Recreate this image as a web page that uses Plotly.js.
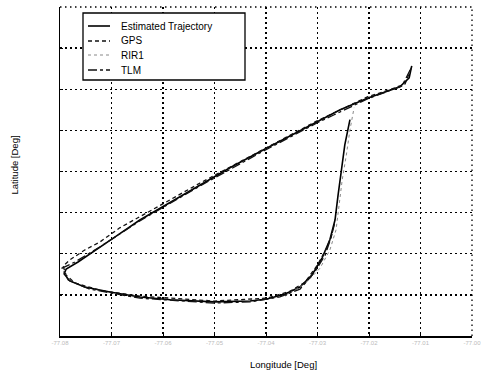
<!DOCTYPE html>
<html><head><meta charset="utf-8">
<script src="https://cdn.plot.ly/plotly-3.0.1.min.js"></script>
<style>html,body{margin:0;padding:0;background:#fff}#c{width:485px;height:376px}</style>
</head><body><div id="c"></div>
<script>
// Estimated Trajectory
const estLon = [-77.0117,-77.0122,-77.0140,-77.0169,-77.0202,-77.0256,-77.0301,-77.0353,-77.0412,-77.0470,-77.0528,-77.0586,-77.0645,-77.0693,-77.0732,-77.0765,-77.0788,-77.0792,-77.0781,-77.0752,-77.0703,-77.0645,-77.0586,-77.0501,-77.0431,-77.0398,-77.0363,-77.0334,-77.0311,-77.0291,-77.0276,-77.0266,-77.0260,-77.0254,-77.0247,-77.0237];
const estLat = [38.9457,38.9428,38.9406,38.9394,38.9379,38.9350,38.9321,38.9287,38.9248,38.9209,38.9167,38.9126,38.9082,38.9041,38.9007,38.8980,38.8963,38.8951,38.8934,38.8919,38.8907,38.8895,38.8888,38.8883,38.8885,38.8890,38.8902,38.8919,38.8948,38.8990,38.9034,38.9082,38.9143,38.9204,38.9265,38.9326];
// GPS
const gpsLon = [-77.0118,-77.0130,-77.0159,-77.0202,-77.0301,-77.0412,-77.0528,-77.0625,-77.0684,-77.0722,-77.0752,-77.0781,-77.0794,-77.0788,-77.0771,-77.0722,-77.0645,-77.0501,-77.0398,-77.0353,-77.0324,-77.0300,-77.0282,-77.0270];
const gpsLat = [38.9452,38.9413,38.9399,38.9382,38.9323,38.9250,38.9172,38.9104,38.9063,38.9029,38.9009,38.8985,38.8970,38.8948,38.8929,38.8911,38.8897,38.8885,38.8892,38.8909,38.8931,38.8973,38.9014,38.9053];
// RIR1
const rirLon = [-77.0363,-77.0324,-77.0295,-77.0276,-77.0264,-77.0258,-77.0252,-77.0244,-77.0237,-77.0229];
const rirLat = [38.8897,38.8927,38.8965,38.9009,38.9058,38.9119,38.9180,38.9240,38.9301,38.9355];
// TLM
const tlmLon = [-77.0120,-77.0136,-77.0202,-77.0301,-77.0412,-77.0528,-77.0645,-77.0722,-77.0771,-77.0796,-77.0784,-77.0742,-77.0645,-77.0501,-77.0431,-77.0373,-77.0334,-77.0305,-77.0285,-77.0274,-77.0266];
const tlmLat = [38.9447,38.9408,38.9377,38.9318,38.9245,38.9165,38.9080,38.9017,38.8980,38.8965,38.8936,38.8914,38.8892,38.8880,38.8883,38.8895,38.8914,38.8956,38.8997,38.9038,38.9077];
const xTicks = [-77.08,-77.07,-77.06,-77.05,-77.04,-77.03,-77.02,-77.01,-77.00];
const xTickText = ["-77.08","-77.07","-77.06","-77.05","-77.04","-77.03","-77.02","-77.01","-77.00"];
const yTicks = [38.88,38.89,38.90,38.91,38.92,38.93,38.94,38.95,38.96];
const seriesNames = ['Estimated Trajectory', 'GPS', 'RIR1', 'TLM'];

const styles = [
  {color: '#000', width: 1.6, dash: 'solid'},
  {color: '#111', width: 1.3, dash: '4px,3px'},
  {color: '#888', width: 1, dash: 'dot'},
  {color: '#111', width: 1.3, dash: 'dashdot'}
];
const data = [[estLon, estLat], [gpsLon, gpsLat], [rirLon, rirLat], [tlmLon, tlmLat]];
const traces = data.map((d, i) => ({x: d[0], y: d[1], name: seriesNames[i], mode: 'lines', line: styles[i]}));

const ax = {
  showline: true, linecolor: '#000', linewidth: 1.5, mirror: false,
  showgrid: true, gridcolor: '#000', gridwidth: 1.3, griddash: '1.5px,3.5px',
  zeroline: false, ticks: 'inside', ticklen: 3, tickcolor: '#000'
};
// manual compact legend (paper coords)
const L = {x0: 83, x1: 245, y0: 13, y1: 80, rowY: [26, 41, 55, 70]};
const px = v => (v - 60) / 412, py = v => (336 - v) / 329;
const shapes = [
  {type: 'line', xref: 'paper', yref: 'paper', x0: 0, x1: 1, y0: 1, y1: 1, line: {color: '#000', width: 1.3, dash: '1.5px,3.5px'}},
  {type: 'line', xref: 'paper', yref: 'paper', x0: 1, x1: 1, y0: 0, y1: 1, line: {color: '#000', width: 1.3, dash: '1.5px,3.5px'}},
  {type: 'rect', xref: 'paper', yref: 'paper', x0: px(L.x0), x1: px(L.x1), y0: py(L.y1), y1: py(L.y0), fillcolor: '#fff', line: {color: '#000', width: 1.3}, layer: 'above'}
];
const annotations = [];
seriesNames.forEach((n, i) => {
  shapes.push({type: 'line', xref: 'paper', yref: 'paper', x0: px(88), x1: px(110), y0: py(L.rowY[i]), y1: py(L.rowY[i]), line: styles[i], layer: 'above'});
  annotations.push({text: n, xref: 'paper', yref: 'paper', x: px(119), y: py(L.rowY[i]), xanchor: 'left', yanchor: 'middle', showarrow: false, font: {size: 10, color: '#000'}});
});
annotations.push(
  {text: 'Longitude [Deg]', xref: 'paper', yref: 'paper', x: 0.543, y: -0.088, xanchor: 'center', yanchor: 'middle', showarrow: false, font: {size: 9.5, color: '#000'}},
  {text: 'Latitude [Deg]', xref: 'paper', yref: 'paper', x: -0.11, y: 0.52, xanchor: 'center', yanchor: 'middle', textangle: -90, showarrow: false, font: {size: 9.5, color: '#000'}}
);
const layout = {
  width: 485, height: 376,
  margin: {l: 60, r: 13, t: 7, b: 40},
  paper_bgcolor: '#fff', plot_bgcolor: '#fff',
  font: {family: 'Arial, Liberation Sans, sans-serif', color: '#000'},
  showlegend: false,
  xaxis: Object.assign({}, ax, {range: [-77.08, -77.00], tickvals: xTicks, ticktext: xTickText,
          tickfont: {size: 6, color: '#bbb'}}),
  yaxis: Object.assign({}, ax, {range: [38.88, 38.96], tickvals: yTicks, showticklabels: false}),
  shapes: shapes,
  annotations: annotations
};
Plotly.newPlot('c', traces, layout, {displayModeBar: false, staticPlot: true});
</script></body></html>
